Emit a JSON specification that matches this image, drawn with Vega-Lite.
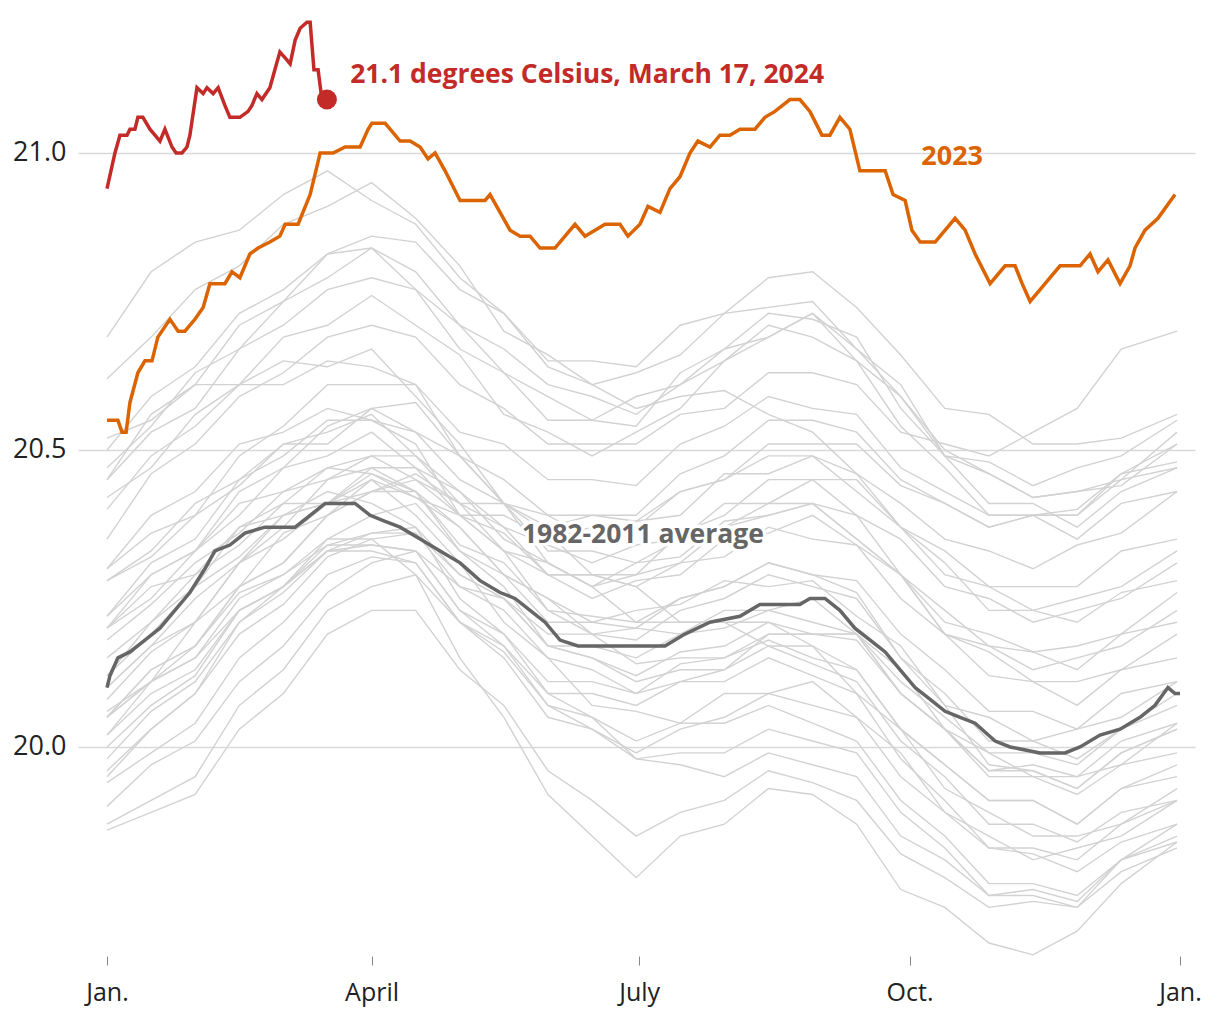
{
"$schema":"https://vega.github.io/schema/vega-lite/v6.json",
"width":1117,"height":946,
"autosize":"none",
"padding":{"left":78,"top":10,"right":25,"bottom":64},
"config":{"view":{"stroke":null},"font":"Open Sans"},
"datasets":{
"gray":[
{"yr":2016,"d":0,"t":20.69},{"yr":2016,"d":15,"t":20.80},{"yr":2016,"d":30,"t":20.85},{"yr":2016,"d":45,"t":20.87},{"yr":2016,"d":60,"t":20.93},{"yr":2016,"d":75,"t":20.97},{"yr":2016,"d":90,"t":20.92},{"yr":2016,"d":105,"t":20.88},{"yr":2016,"d":120,"t":20.79},{"yr":2016,"d":135,"t":20.73},{"yr":2016,"d":150,"t":20.64},{"yr":2016,"d":165,"t":20.61},{"yr":2016,"d":180,"t":20.57},{"yr":2016,"d":195,"t":20.59},{"yr":2016,"d":210,"t":20.60},{"yr":2016,"d":225,"t":20.56},{"yr":2016,"d":240,"t":20.53},{"yr":2016,"d":255,"t":20.46},{"yr":2016,"d":270,"t":20.41},{"yr":2016,"d":285,"t":20.35},{"yr":2016,"d":300,"t":20.33},{"yr":2016,"d":315,"t":20.30},{"yr":2016,"d":330,"t":20.34},{"yr":2016,"d":345,"t":20.36},{"yr":2016,"d":364,"t":20.43},
{"yr":2020,"d":0,"t":20.62},{"yr":2020,"d":15,"t":20.69},{"yr":2020,"d":30,"t":20.77},{"yr":2020,"d":45,"t":20.81},{"yr":2020,"d":60,"t":20.88},{"yr":2020,"d":75,"t":20.91},{"yr":2020,"d":90,"t":20.95},{"yr":2020,"d":105,"t":20.89},{"yr":2020,"d":120,"t":20.81},{"yr":2020,"d":135,"t":20.70},{"yr":2020,"d":150,"t":20.66},{"yr":2020,"d":165,"t":20.61},{"yr":2020,"d":180,"t":20.63},{"yr":2020,"d":195,"t":20.66},{"yr":2020,"d":210,"t":20.73},{"yr":2020,"d":225,"t":20.74},{"yr":2020,"d":240,"t":20.75},{"yr":2020,"d":255,"t":20.67},{"yr":2020,"d":270,"t":20.59},{"yr":2020,"d":285,"t":20.50},{"yr":2020,"d":300,"t":20.46},{"yr":2020,"d":315,"t":20.42},{"yr":2020,"d":330,"t":20.43},{"yr":2020,"d":345,"t":20.44},{"yr":2020,"d":364,"t":20.51},
{"yr":2019,"d":0,"t":20.50},{"yr":2019,"d":15,"t":20.59},{"yr":2019,"d":30,"t":20.64},{"yr":2019,"d":45,"t":20.73},{"yr":2019,"d":60,"t":20.77},{"yr":2019,"d":75,"t":20.83},{"yr":2019,"d":90,"t":20.86},{"yr":2019,"d":105,"t":20.85},{"yr":2019,"d":120,"t":20.77},{"yr":2019,"d":135,"t":20.73},{"yr":2019,"d":150,"t":20.65},{"yr":2019,"d":165,"t":20.65},{"yr":2019,"d":180,"t":20.64},{"yr":2019,"d":195,"t":20.71},{"yr":2019,"d":210,"t":20.73},{"yr":2019,"d":225,"t":20.79},{"yr":2019,"d":240,"t":20.80},{"yr":2019,"d":255,"t":20.74},{"yr":2019,"d":270,"t":20.66},{"yr":2019,"d":285,"t":20.57},{"yr":2019,"d":300,"t":20.56},{"yr":2019,"d":315,"t":20.51},{"yr":2019,"d":330,"t":20.51},{"yr":2019,"d":345,"t":20.52},{"yr":2019,"d":364,"t":20.56},
{"yr":2017,"d":0,"t":20.45},{"yr":2017,"d":15,"t":20.56},{"yr":2017,"d":30,"t":20.61},{"yr":2017,"d":45,"t":20.71},{"yr":2017,"d":60,"t":20.75},{"yr":2017,"d":75,"t":20.83},{"yr":2017,"d":90,"t":20.84},{"yr":2017,"d":105,"t":20.80},{"yr":2017,"d":120,"t":20.71},{"yr":2017,"d":135,"t":20.67},{"yr":2017,"d":150,"t":20.61},{"yr":2017,"d":165,"t":20.59},{"yr":2017,"d":180,"t":20.56},{"yr":2017,"d":195,"t":20.61},{"yr":2017,"d":210,"t":20.65},{"yr":2017,"d":225,"t":20.71},{"yr":2017,"d":240,"t":20.69},{"yr":2017,"d":255,"t":20.65},{"yr":2017,"d":270,"t":20.54},{"yr":2017,"d":285,"t":20.47},{"yr":2017,"d":300,"t":20.39},{"yr":2017,"d":315,"t":20.39},{"yr":2017,"d":330,"t":20.40},{"yr":2017,"d":345,"t":20.46},{"yr":2017,"d":364,"t":20.48},
{"yr":2018,"d":0,"t":20.42},{"yr":2018,"d":15,"t":20.47},{"yr":2018,"d":30,"t":20.56},{"yr":2018,"d":45,"t":20.61},{"yr":2018,"d":60,"t":20.69},{"yr":2018,"d":75,"t":20.71},{"yr":2018,"d":90,"t":20.76},{"yr":2018,"d":105,"t":20.71},{"yr":2018,"d":120,"t":20.66},{"yr":2018,"d":135,"t":20.56},{"yr":2018,"d":150,"t":20.53},{"yr":2018,"d":165,"t":20.49},{"yr":2018,"d":180,"t":20.53},{"yr":2018,"d":195,"t":20.57},{"yr":2018,"d":210,"t":20.65},{"yr":2018,"d":225,"t":20.69},{"yr":2018,"d":240,"t":20.73},{"yr":2018,"d":255,"t":20.65},{"yr":2018,"d":270,"t":20.59},{"yr":2018,"d":285,"t":20.49},{"yr":2018,"d":300,"t":20.48},{"yr":2018,"d":315,"t":20.44},{"yr":2018,"d":330,"t":20.47},{"yr":2018,"d":345,"t":20.49},{"yr":2018,"d":364,"t":20.55},
{"yr":2021,"d":0,"t":20.45},{"yr":2021,"d":15,"t":20.53},{"yr":2021,"d":30,"t":20.57},{"yr":2021,"d":45,"t":20.67},{"yr":2021,"d":60,"t":20.71},{"yr":2021,"d":75,"t":20.77},{"yr":2021,"d":90,"t":20.79},{"yr":2021,"d":105,"t":20.77},{"yr":2021,"d":120,"t":20.67},{"yr":2021,"d":135,"t":20.63},{"yr":2021,"d":150,"t":20.55},{"yr":2021,"d":165,"t":20.55},{"yr":2021,"d":180,"t":20.54},{"yr":2021,"d":195,"t":20.63},{"yr":2021,"d":210,"t":20.67},{"yr":2021,"d":225,"t":20.73},{"yr":2021,"d":240,"t":20.72},{"yr":2021,"d":255,"t":20.69},{"yr":2021,"d":270,"t":20.57},{"yr":2021,"d":285,"t":20.49},{"yr":2021,"d":300,"t":20.41},{"yr":2021,"d":315,"t":20.41},{"yr":2021,"d":330,"t":20.37},{"yr":2021,"d":345,"t":20.43},{"yr":2021,"d":364,"t":20.47},
{"yr":2022,"d":0,"t":20.47},{"yr":2022,"d":15,"t":20.54},{"yr":2022,"d":30,"t":20.63},{"yr":2022,"d":45,"t":20.67},{"yr":2022,"d":60,"t":20.75},{"yr":2022,"d":75,"t":20.79},{"yr":2022,"d":90,"t":20.84},{"yr":2022,"d":105,"t":20.77},{"yr":2022,"d":120,"t":20.71},{"yr":2022,"d":135,"t":20.63},{"yr":2022,"d":150,"t":20.59},{"yr":2022,"d":165,"t":20.55},{"yr":2022,"d":180,"t":20.59},{"yr":2022,"d":195,"t":20.61},{"yr":2022,"d":210,"t":20.67},{"yr":2022,"d":225,"t":20.69},{"yr":2022,"d":240,"t":20.73},{"yr":2022,"d":255,"t":20.67},{"yr":2022,"d":270,"t":20.61},{"yr":2022,"d":285,"t":20.49},{"yr":2022,"d":300,"t":20.46},{"yr":2022,"d":315,"t":20.42},{"yr":2022,"d":330,"t":20.43},{"yr":2022,"d":345,"t":20.45},{"yr":2022,"d":364,"t":20.53},
{"yr":2015,"d":0,"t":20.35},{"yr":2015,"d":15,"t":20.46},{"yr":2015,"d":30,"t":20.51},{"yr":2015,"d":45,"t":20.59},{"yr":2015,"d":60,"t":20.63},{"yr":2015,"d":75,"t":20.69},{"yr":2015,"d":90,"t":20.71},{"yr":2015,"d":105,"t":20.69},{"yr":2015,"d":120,"t":20.61},{"yr":2015,"d":135,"t":20.57},{"yr":2015,"d":150,"t":20.51},{"yr":2015,"d":165,"t":20.51},{"yr":2015,"d":180,"t":20.51},{"yr":2015,"d":195,"t":20.56},{"yr":2015,"d":210,"t":20.57},{"yr":2015,"d":225,"t":20.63},{"yr":2015,"d":240,"t":20.63},{"yr":2015,"d":255,"t":20.61},{"yr":2015,"d":270,"t":20.53},{"yr":2015,"d":285,"t":20.51},{"yr":2015,"d":300,"t":20.49},{"yr":2015,"d":315,"t":20.53},{"yr":2015,"d":330,"t":20.57},{"yr":2015,"d":345,"t":20.67},{"yr":2015,"d":364,"t":20.70},
{"yr":2014,"d":0,"t":20.30},{"yr":2014,"d":15,"t":20.36},{"yr":2014,"d":30,"t":20.39},{"yr":2014,"d":45,"t":20.49},{"yr":2014,"d":60,"t":20.54},{"yr":2014,"d":75,"t":20.61},{"yr":2014,"d":90,"t":20.61},{"yr":2014,"d":105,"t":20.61},{"yr":2014,"d":120,"t":20.53},{"yr":2014,"d":135,"t":20.51},{"yr":2014,"d":150,"t":20.45},{"yr":2014,"d":165,"t":20.45},{"yr":2014,"d":180,"t":20.44},{"yr":2014,"d":195,"t":20.51},{"yr":2014,"d":210,"t":20.54},{"yr":2014,"d":225,"t":20.59},{"yr":2014,"d":240,"t":20.57},{"yr":2014,"d":255,"t":20.56},{"yr":2014,"d":270,"t":20.47},{"yr":2014,"d":285,"t":20.43},{"yr":2014,"d":300,"t":20.39},{"yr":2014,"d":315,"t":20.39},{"yr":2014,"d":330,"t":20.35},{"yr":2014,"d":345,"t":20.41},{"yr":2014,"d":364,"t":20.43},
{"yr":2013,"d":0,"t":20.28},{"yr":2013,"d":15,"t":20.32},{"yr":2013,"d":30,"t":20.39},{"yr":2013,"d":45,"t":20.44},{"yr":2013,"d":60,"t":20.51},{"yr":2013,"d":75,"t":20.51},{"yr":2013,"d":90,"t":20.57},{"yr":2013,"d":105,"t":20.53},{"yr":2013,"d":120,"t":20.49},{"yr":2013,"d":135,"t":20.41},{"yr":2013,"d":150,"t":20.39},{"yr":2013,"d":165,"t":20.35},{"yr":2013,"d":180,"t":20.38},{"yr":2013,"d":195,"t":20.39},{"yr":2013,"d":210,"t":20.46},{"yr":2013,"d":225,"t":20.46},{"yr":2013,"d":240,"t":20.49},{"yr":2013,"d":255,"t":20.43},{"yr":2013,"d":270,"t":20.37},{"yr":2013,"d":285,"t":20.29},{"yr":2013,"d":300,"t":20.27},{"yr":2013,"d":315,"t":20.23},{"yr":2013,"d":330,"t":20.25},{"yr":2013,"d":345,"t":20.27},{"yr":2013,"d":364,"t":20.33},
{"yr":2012,"d":0,"t":20.20},{"yr":2012,"d":15,"t":20.29},{"yr":2012,"d":30,"t":20.33},{"yr":2012,"d":45,"t":20.43},{"yr":2012,"d":60,"t":20.47},{"yr":2012,"d":75,"t":20.54},{"yr":2012,"d":90,"t":20.57},{"yr":2012,"d":105,"t":20.58},{"yr":2012,"d":120,"t":20.49},{"yr":2012,"d":135,"t":20.45},{"yr":2012,"d":150,"t":20.39},{"yr":2012,"d":165,"t":20.39},{"yr":2012,"d":180,"t":20.38},{"yr":2012,"d":195,"t":20.43},{"yr":2012,"d":210,"t":20.45},{"yr":2012,"d":225,"t":20.49},{"yr":2012,"d":240,"t":20.49},{"yr":2012,"d":255,"t":20.46},{"yr":2012,"d":270,"t":20.37},{"yr":2012,"d":285,"t":20.31},{"yr":2012,"d":300,"t":20.23},{"yr":2012,"d":315,"t":20.23},{"yr":2012,"d":330,"t":20.21},{"yr":2012,"d":345,"t":20.26},{"yr":2012,"d":364,"t":20.28},
{"yr":2010,"d":0,"t":20.40},{"yr":2010,"d":15,"t":20.49},{"yr":2010,"d":30,"t":20.54},{"yr":2010,"d":45,"t":20.61},{"yr":2010,"d":60,"t":20.61},{"yr":2010,"d":75,"t":20.65},{"yr":2010,"d":90,"t":20.64},{"yr":2010,"d":105,"t":20.61},{"yr":2010,"d":120,"t":20.49},{"yr":2010,"d":135,"t":20.41},{"yr":2010,"d":150,"t":20.31},{"yr":2010,"d":165,"t":20.27},{"yr":2010,"d":180,"t":20.21},{"yr":2010,"d":195,"t":20.21},{"yr":2010,"d":210,"t":20.21},{"yr":2010,"d":225,"t":20.21},{"yr":2010,"d":240,"t":20.17},{"yr":2010,"d":255,"t":20.13},{"yr":2010,"d":270,"t":20.03},{"yr":2010,"d":285,"t":19.97},{"yr":2010,"d":300,"t":19.91},{"yr":2010,"d":315,"t":19.91},{"yr":2010,"d":330,"t":19.87},{"yr":2010,"d":345,"t":19.93},{"yr":2010,"d":364,"t":19.95},
{"yr":2009,"d":0,"t":20.05},{"yr":2009,"d":15,"t":20.13},{"yr":2009,"d":30,"t":20.17},{"yr":2009,"d":45,"t":20.27},{"yr":2009,"d":60,"t":20.31},{"yr":2009,"d":75,"t":20.39},{"yr":2009,"d":90,"t":20.43},{"yr":2009,"d":105,"t":20.46},{"yr":2009,"d":120,"t":20.41},{"yr":2009,"d":135,"t":20.41},{"yr":2009,"d":150,"t":20.37},{"yr":2009,"d":165,"t":20.39},{"yr":2009,"d":180,"t":20.39},{"yr":2009,"d":195,"t":20.46},{"yr":2009,"d":210,"t":20.49},{"yr":2009,"d":225,"t":20.55},{"yr":2009,"d":240,"t":20.55},{"yr":2009,"d":255,"t":20.53},{"yr":2009,"d":270,"t":20.45},{"yr":2009,"d":285,"t":20.41},{"yr":2009,"d":300,"t":20.37},{"yr":2009,"d":315,"t":20.39},{"yr":2009,"d":330,"t":20.39},{"yr":2009,"d":345,"t":20.46},{"yr":2009,"d":364,"t":20.51},
{"yr":1998,"d":0,"t":20.52},{"yr":1998,"d":15,"t":20.55},{"yr":1998,"d":30,"t":20.61},{"yr":1998,"d":45,"t":20.61},{"yr":1998,"d":60,"t":20.65},{"yr":1998,"d":75,"t":20.64},{"yr":1998,"d":90,"t":20.67},{"yr":1998,"d":105,"t":20.59},{"yr":1998,"d":120,"t":20.51},{"yr":1998,"d":135,"t":20.41},{"yr":1998,"d":150,"t":20.36},{"yr":1998,"d":165,"t":20.29},{"yr":1998,"d":180,"t":20.27},{"yr":1998,"d":195,"t":20.21},{"yr":1998,"d":210,"t":20.21},{"yr":1998,"d":225,"t":20.17},{"yr":1998,"d":240,"t":20.17},{"yr":1998,"d":255,"t":20.09},{"yr":1998,"d":270,"t":20.03},{"yr":1998,"d":285,"t":19.93},{"yr":1998,"d":300,"t":19.89},{"yr":1998,"d":315,"t":19.85},{"yr":1998,"d":330,"t":19.85},{"yr":1998,"d":345,"t":19.87},{"yr":1998,"d":364,"t":19.93},
{"yr":2005,"d":0,"t":20.22},{"yr":2005,"d":15,"t":20.31},{"yr":2005,"d":30,"t":20.35},{"yr":2005,"d":45,"t":20.45},{"yr":2005,"d":60,"t":20.49},{"yr":2005,"d":75,"t":20.55},{"yr":2005,"d":90,"t":20.55},{"yr":2005,"d":105,"t":20.53},{"yr":2005,"d":120,"t":20.45},{"yr":2005,"d":135,"t":20.41},{"yr":2005,"d":150,"t":20.33},{"yr":2005,"d":165,"t":20.33},{"yr":2005,"d":180,"t":20.31},{"yr":2005,"d":195,"t":20.35},{"yr":2005,"d":210,"t":20.37},{"yr":2005,"d":225,"t":20.41},{"yr":2005,"d":240,"t":20.41},{"yr":2005,"d":255,"t":20.39},{"yr":2005,"d":270,"t":20.29},{"yr":2005,"d":285,"t":20.23},{"yr":2005,"d":300,"t":20.17},{"yr":2005,"d":315,"t":20.16},{"yr":2005,"d":330,"t":20.13},{"yr":2005,"d":345,"t":20.19},{"yr":2005,"d":364,"t":20.21},
{"yr":2003,"d":0,"t":20.28},{"yr":2003,"d":15,"t":20.33},{"yr":2003,"d":30,"t":20.41},{"yr":2003,"d":45,"t":20.45},{"yr":2003,"d":60,"t":20.51},{"yr":2003,"d":75,"t":20.53},{"yr":2003,"d":90,"t":20.56},{"yr":2003,"d":105,"t":20.49},{"yr":2003,"d":120,"t":20.43},{"yr":2003,"d":135,"t":20.35},{"yr":2003,"d":150,"t":20.31},{"yr":2003,"d":165,"t":20.27},{"yr":2003,"d":180,"t":20.29},{"yr":2003,"d":195,"t":20.31},{"yr":2003,"d":210,"t":20.37},{"yr":2003,"d":225,"t":20.39},{"yr":2003,"d":240,"t":20.41},{"yr":2003,"d":255,"t":20.35},{"yr":2003,"d":270,"t":20.29},{"yr":2003,"d":285,"t":20.21},{"yr":2003,"d":300,"t":20.19},{"yr":2003,"d":315,"t":20.16},{"yr":2003,"d":330,"t":20.17},{"yr":2003,"d":345,"t":20.19},{"yr":2003,"d":364,"t":20.26},
{"yr":2006,"d":0,"t":20.10},{"yr":2006,"d":15,"t":20.17},{"yr":2006,"d":30,"t":20.21},{"yr":2006,"d":45,"t":20.31},{"yr":2006,"d":60,"t":20.37},{"yr":2006,"d":75,"t":20.45},{"yr":2006,"d":90,"t":20.47},{"yr":2006,"d":105,"t":20.47},{"yr":2006,"d":120,"t":20.39},{"yr":2006,"d":135,"t":20.36},{"yr":2006,"d":150,"t":20.29},{"yr":2006,"d":165,"t":20.29},{"yr":2006,"d":180,"t":20.29},{"yr":2006,"d":195,"t":20.36},{"yr":2006,"d":210,"t":20.39},{"yr":2006,"d":225,"t":20.45},{"yr":2006,"d":240,"t":20.45},{"yr":2006,"d":255,"t":20.45},{"yr":2006,"d":270,"t":20.37},{"yr":2006,"d":285,"t":20.33},{"yr":2006,"d":300,"t":20.27},{"yr":2006,"d":315,"t":20.27},{"yr":2006,"d":330,"t":20.27},{"yr":2006,"d":345,"t":20.33},{"yr":2006,"d":364,"t":20.35},
{"yr":2002,"d":0,"t":20.20},{"yr":2002,"d":15,"t":20.25},{"yr":2002,"d":30,"t":20.33},{"yr":2002,"d":45,"t":20.39},{"yr":2002,"d":60,"t":20.47},{"yr":2002,"d":75,"t":20.49},{"yr":2002,"d":90,"t":20.53},{"yr":2002,"d":105,"t":20.47},{"yr":2002,"d":120,"t":20.43},{"yr":2002,"d":135,"t":20.37},{"yr":2002,"d":150,"t":20.34},{"yr":2002,"d":165,"t":20.31},{"yr":2002,"d":180,"t":20.34},{"yr":2002,"d":195,"t":20.35},{"yr":2002,"d":210,"t":20.41},{"yr":2002,"d":225,"t":20.41},{"yr":2002,"d":240,"t":20.45},{"yr":2002,"d":255,"t":20.39},{"yr":2002,"d":270,"t":20.35},{"yr":2002,"d":285,"t":20.27},{"yr":2002,"d":300,"t":20.25},{"yr":2002,"d":315,"t":20.21},{"yr":2002,"d":330,"t":20.23},{"yr":2002,"d":345,"t":20.25},{"yr":2002,"d":364,"t":20.31},
{"yr":1983,"d":0,"t":20.30},{"yr":1983,"d":15,"t":20.39},{"yr":1983,"d":30,"t":20.43},{"yr":1983,"d":45,"t":20.51},{"yr":1983,"d":60,"t":20.53},{"yr":1983,"d":75,"t":20.57},{"yr":1983,"d":90,"t":20.55},{"yr":1983,"d":105,"t":20.51},{"yr":1983,"d":120,"t":20.39},{"yr":1983,"d":135,"t":20.33},{"yr":1983,"d":150,"t":20.23},{"yr":1983,"d":165,"t":20.19},{"yr":1983,"d":180,"t":20.14},{"yr":1983,"d":195,"t":20.15},{"yr":1983,"d":210,"t":20.15},{"yr":1983,"d":225,"t":20.18},{"yr":1983,"d":240,"t":20.15},{"yr":1983,"d":255,"t":20.13},{"yr":1983,"d":270,"t":20.03},{"yr":1983,"d":285,"t":19.97},{"yr":1983,"d":300,"t":19.91},{"yr":1983,"d":315,"t":19.91},{"yr":1983,"d":330,"t":19.87},{"yr":1983,"d":345,"t":19.93},{"yr":1983,"d":364,"t":19.97},
{"yr":1987,"d":0,"t":20.12},{"yr":1987,"d":15,"t":20.21},{"yr":1987,"d":30,"t":20.27},{"yr":1987,"d":45,"t":20.37},{"yr":1987,"d":60,"t":20.41},{"yr":1987,"d":75,"t":20.47},{"yr":1987,"d":90,"t":20.49},{"yr":1987,"d":105,"t":20.49},{"yr":1987,"d":120,"t":20.41},{"yr":1987,"d":135,"t":20.37},{"yr":1987,"d":150,"t":20.29},{"yr":1987,"d":165,"t":20.29},{"yr":1987,"d":180,"t":20.27},{"yr":1987,"d":195,"t":20.31},{"yr":1987,"d":210,"t":20.32},{"yr":1987,"d":225,"t":20.37},{"yr":1987,"d":240,"t":20.35},{"yr":1987,"d":255,"t":20.34},{"yr":1987,"d":270,"t":20.25},{"yr":1987,"d":285,"t":20.19},{"yr":1987,"d":300,"t":20.12},{"yr":1987,"d":315,"t":20.11},{"yr":1987,"d":330,"t":20.07},{"yr":1987,"d":345,"t":20.13},{"yr":1987,"d":364,"t":20.15},
{"yr":1988,"d":0,"t":20.15},{"yr":1988,"d":15,"t":20.21},{"yr":1988,"d":30,"t":20.29},{"yr":1988,"d":45,"t":20.34},{"yr":1988,"d":60,"t":20.41},{"yr":1988,"d":75,"t":20.41},{"yr":1988,"d":90,"t":20.45},{"yr":1988,"d":105,"t":20.39},{"yr":1988,"d":120,"t":20.31},{"yr":1988,"d":135,"t":20.21},{"yr":1988,"d":150,"t":20.15},{"yr":1988,"d":165,"t":20.07},{"yr":1988,"d":180,"t":20.06},{"yr":1988,"d":195,"t":20.04},{"yr":1988,"d":210,"t":20.09},{"yr":1988,"d":225,"t":20.09},{"yr":1988,"d":240,"t":20.11},{"yr":1988,"d":255,"t":20.05},{"yr":1988,"d":270,"t":19.99},{"yr":1988,"d":285,"t":19.89},{"yr":1988,"d":300,"t":19.85},{"yr":1988,"d":315,"t":19.81},{"yr":1988,"d":330,"t":19.83},{"yr":1988,"d":345,"t":19.85},{"yr":1988,"d":364,"t":19.91},
{"yr":1990,"d":0,"t":20.08},{"yr":1990,"d":15,"t":20.16},{"yr":1990,"d":30,"t":20.21},{"yr":1990,"d":45,"t":20.31},{"yr":1990,"d":60,"t":20.35},{"yr":1990,"d":75,"t":20.41},{"yr":1990,"d":90,"t":20.43},{"yr":1990,"d":105,"t":20.43},{"yr":1990,"d":120,"t":20.34},{"yr":1990,"d":135,"t":20.31},{"yr":1990,"d":150,"t":20.23},{"yr":1990,"d":165,"t":20.22},{"yr":1990,"d":180,"t":20.21},{"yr":1990,"d":195,"t":20.25},{"yr":1990,"d":210,"t":20.27},{"yr":1990,"d":225,"t":20.31},{"yr":1990,"d":240,"t":20.29},{"yr":1990,"d":255,"t":20.28},{"yr":1990,"d":270,"t":20.19},{"yr":1990,"d":285,"t":20.13},{"yr":1990,"d":300,"t":20.06},{"yr":1990,"d":315,"t":20.06},{"yr":1990,"d":330,"t":20.03},{"yr":1990,"d":345,"t":20.09},{"yr":1990,"d":364,"t":20.11},
{"yr":1991,"d":0,"t":20.10},{"yr":1991,"d":15,"t":20.17},{"yr":1991,"d":30,"t":20.25},{"yr":1991,"d":45,"t":20.31},{"yr":1991,"d":60,"t":20.39},{"yr":1991,"d":75,"t":20.41},{"yr":1991,"d":90,"t":20.46},{"yr":1991,"d":105,"t":20.42},{"yr":1991,"d":120,"t":20.37},{"yr":1991,"d":135,"t":20.29},{"yr":1991,"d":150,"t":20.25},{"yr":1991,"d":165,"t":20.21},{"yr":1991,"d":180,"t":20.23},{"yr":1991,"d":195,"t":20.24},{"yr":1991,"d":210,"t":20.28},{"yr":1991,"d":225,"t":20.27},{"yr":1991,"d":240,"t":20.28},{"yr":1991,"d":255,"t":20.22},{"yr":1991,"d":270,"t":20.17},{"yr":1991,"d":285,"t":20.07},{"yr":1991,"d":300,"t":20.05},{"yr":1991,"d":315,"t":20.01},{"yr":1991,"d":330,"t":20.03},{"yr":1991,"d":345,"t":20.05},{"yr":1991,"d":364,"t":20.11},
{"yr":1995,"d":0,"t":20.12},{"yr":1995,"d":15,"t":20.19},{"yr":1995,"d":30,"t":20.27},{"yr":1995,"d":45,"t":20.32},{"yr":1995,"d":60,"t":20.39},{"yr":1995,"d":75,"t":20.41},{"yr":1995,"d":90,"t":20.47},{"yr":1995,"d":105,"t":20.43},{"yr":1995,"d":120,"t":20.37},{"yr":1995,"d":135,"t":20.29},{"yr":1995,"d":150,"t":20.25},{"yr":1995,"d":165,"t":20.19},{"yr":1995,"d":180,"t":20.20},{"yr":1995,"d":195,"t":20.19},{"yr":1995,"d":210,"t":20.23},{"yr":1995,"d":225,"t":20.23},{"yr":1995,"d":240,"t":20.25},{"yr":1995,"d":255,"t":20.19},{"yr":1995,"d":270,"t":20.13},{"yr":1995,"d":285,"t":20.03},{"yr":1995,"d":300,"t":19.99},{"yr":1995,"d":315,"t":19.95},{"yr":1995,"d":330,"t":19.95},{"yr":1995,"d":345,"t":19.97},{"yr":1995,"d":364,"t":20.04},
{"yr":1997,"d":0,"t":20.02},{"yr":1997,"d":15,"t":20.11},{"yr":1997,"d":30,"t":20.17},{"yr":1997,"d":45,"t":20.27},{"yr":1997,"d":60,"t":20.31},{"yr":1997,"d":75,"t":20.39},{"yr":1997,"d":90,"t":20.43},{"yr":1997,"d":105,"t":20.45},{"yr":1997,"d":120,"t":20.39},{"yr":1997,"d":135,"t":20.39},{"yr":1997,"d":150,"t":20.35},{"yr":1997,"d":165,"t":20.37},{"yr":1997,"d":180,"t":20.37},{"yr":1997,"d":195,"t":20.43},{"yr":1997,"d":210,"t":20.45},{"yr":1997,"d":225,"t":20.51},{"yr":1997,"d":240,"t":20.51},{"yr":1997,"d":255,"t":20.51},{"yr":1997,"d":270,"t":20.44},{"yr":1997,"d":285,"t":20.41},{"yr":1997,"d":300,"t":20.37},{"yr":1997,"d":315,"t":20.39},{"yr":1997,"d":330,"t":20.39},{"yr":1997,"d":345,"t":20.45},{"yr":1997,"d":364,"t":20.47},
{"yr":2001,"d":0,"t":20.05},{"yr":2001,"d":15,"t":20.11},{"yr":2001,"d":30,"t":20.21},{"yr":2001,"d":45,"t":20.27},{"yr":2001,"d":60,"t":20.36},{"yr":2001,"d":75,"t":20.39},{"yr":2001,"d":90,"t":20.45},{"yr":2001,"d":105,"t":20.42},{"yr":2001,"d":120,"t":20.39},{"yr":2001,"d":135,"t":20.33},{"yr":2001,"d":150,"t":20.31},{"yr":2001,"d":165,"t":20.27},{"yr":2001,"d":180,"t":20.31},{"yr":2001,"d":195,"t":20.32},{"yr":2001,"d":210,"t":20.38},{"yr":2001,"d":225,"t":20.39},{"yr":2001,"d":240,"t":20.41},{"yr":2001,"d":255,"t":20.35},{"yr":2001,"d":270,"t":20.29},{"yr":2001,"d":285,"t":20.19},{"yr":2001,"d":300,"t":20.16},{"yr":2001,"d":315,"t":20.11},{"yr":2001,"d":330,"t":20.11},{"yr":2001,"d":345,"t":20.13},{"yr":2001,"d":364,"t":20.19},
{"yr":2004,"d":0,"t":20.18},{"yr":2004,"d":15,"t":20.24},{"yr":2004,"d":30,"t":20.31},{"yr":2004,"d":45,"t":20.36},{"yr":2004,"d":60,"t":20.43},{"yr":2004,"d":75,"t":20.45},{"yr":2004,"d":90,"t":20.49},{"yr":2004,"d":105,"t":20.45},{"yr":2004,"d":120,"t":20.41},{"yr":2004,"d":135,"t":20.33},{"yr":2004,"d":150,"t":20.29},{"yr":2004,"d":165,"t":20.25},{"yr":2004,"d":180,"t":20.28},{"yr":2004,"d":195,"t":20.29},{"yr":2004,"d":210,"t":20.35},{"yr":2004,"d":225,"t":20.36},{"yr":2004,"d":240,"t":20.39},{"yr":2004,"d":255,"t":20.34},{"yr":2004,"d":270,"t":20.29},{"yr":2004,"d":285,"t":20.19},{"yr":2004,"d":300,"t":20.17},{"yr":2004,"d":315,"t":20.13},{"yr":2004,"d":330,"t":20.15},{"yr":2004,"d":345,"t":20.17},{"yr":2004,"d":364,"t":20.23},
{"yr":2007,"d":0,"t":20.22},{"yr":2007,"d":15,"t":20.29},{"yr":2007,"d":30,"t":20.33},{"yr":2007,"d":45,"t":20.41},{"yr":2007,"d":60,"t":20.43},{"yr":2007,"d":75,"t":20.47},{"yr":2007,"d":90,"t":20.46},{"yr":2007,"d":105,"t":20.43},{"yr":2007,"d":120,"t":20.33},{"yr":2007,"d":135,"t":20.27},{"yr":2007,"d":150,"t":20.17},{"yr":2007,"d":165,"t":20.15},{"yr":2007,"d":180,"t":20.11},{"yr":2007,"d":195,"t":20.13},{"yr":2007,"d":210,"t":20.13},{"yr":2007,"d":225,"t":20.17},{"yr":2007,"d":240,"t":20.14},{"yr":2007,"d":255,"t":20.11},{"yr":2007,"d":270,"t":20.01},{"yr":2007,"d":285,"t":19.95},{"yr":2007,"d":300,"t":19.87},{"yr":2007,"d":315,"t":19.87},{"yr":2007,"d":330,"t":19.84},{"yr":2007,"d":345,"t":19.89},{"yr":2007,"d":364,"t":19.91},
{"yr":2011,"d":0,"t":19.95},{"yr":2011,"d":15,"t":20.03},{"yr":2011,"d":30,"t":20.09},{"yr":2011,"d":45,"t":20.21},{"yr":2011,"d":60,"t":20.27},{"yr":2011,"d":75,"t":20.35},{"yr":2011,"d":90,"t":20.39},{"yr":2011,"d":105,"t":20.41},{"yr":2011,"d":120,"t":20.33},{"yr":2011,"d":135,"t":20.29},{"yr":2011,"d":150,"t":20.21},{"yr":2011,"d":165,"t":20.21},{"yr":2011,"d":180,"t":20.20},{"yr":2011,"d":195,"t":20.25},{"yr":2011,"d":210,"t":20.27},{"yr":2011,"d":225,"t":20.31},{"yr":2011,"d":240,"t":20.29},{"yr":2011,"d":255,"t":20.26},{"yr":2011,"d":270,"t":20.15},{"yr":2011,"d":285,"t":20.07},{"yr":2011,"d":300,"t":19.97},{"yr":2011,"d":315,"t":19.96},{"yr":2011,"d":330,"t":19.93},{"yr":2011,"d":345,"t":19.99},{"yr":2011,"d":364,"t":20.03},
{"yr":2008,"d":0,"t":19.90},{"yr":2008,"d":15,"t":19.97},{"yr":2008,"d":30,"t":20.01},{"yr":2008,"d":45,"t":20.11},{"yr":2008,"d":60,"t":20.17},{"yr":2008,"d":75,"t":20.26},{"yr":2008,"d":90,"t":20.31},{"yr":2008,"d":105,"t":20.33},{"yr":2008,"d":120,"t":20.27},{"yr":2008,"d":135,"t":20.25},{"yr":2008,"d":150,"t":20.19},{"yr":2008,"d":165,"t":20.19},{"yr":2008,"d":180,"t":20.18},{"yr":2008,"d":195,"t":20.23},{"yr":2008,"d":210,"t":20.25},{"yr":2008,"d":225,"t":20.29},{"yr":2008,"d":240,"t":20.27},{"yr":2008,"d":255,"t":20.25},{"yr":2008,"d":270,"t":20.15},{"yr":2008,"d":285,"t":20.09},{"yr":2008,"d":300,"t":20.01},{"yr":2008,"d":315,"t":20.01},{"yr":2008,"d":330,"t":19.98},{"yr":2008,"d":345,"t":20.03},{"yr":2008,"d":364,"t":20.07},
{"yr":2000,"d":0,"t":19.98},{"yr":2000,"d":15,"t":20.06},{"yr":2000,"d":30,"t":20.11},{"yr":2000,"d":45,"t":20.21},{"yr":2000,"d":60,"t":20.26},{"yr":2000,"d":75,"t":20.33},{"yr":2000,"d":90,"t":20.36},{"yr":2000,"d":105,"t":20.37},{"yr":2000,"d":120,"t":20.29},{"yr":2000,"d":135,"t":20.25},{"yr":2000,"d":150,"t":20.17},{"yr":2000,"d":165,"t":20.15},{"yr":2000,"d":180,"t":20.12},{"yr":2000,"d":195,"t":20.16},{"yr":2000,"d":210,"t":20.17},{"yr":2000,"d":225,"t":20.21},{"yr":2000,"d":240,"t":20.19},{"yr":2000,"d":255,"t":20.18},{"yr":2000,"d":270,"t":20.09},{"yr":2000,"d":285,"t":20.03},{"yr":2000,"d":300,"t":19.95},{"yr":2000,"d":315,"t":19.95},{"yr":2000,"d":330,"t":19.92},{"yr":2000,"d":345,"t":19.97},{"yr":2000,"d":364,"t":19.99},
{"yr":1982,"d":0,"t":20.05},{"yr":1982,"d":15,"t":20.13},{"yr":1982,"d":30,"t":20.17},{"yr":1982,"d":45,"t":20.26},{"yr":1982,"d":60,"t":20.29},{"yr":1982,"d":75,"t":20.34},{"yr":1982,"d":90,"t":20.34},{"yr":1982,"d":105,"t":20.33},{"yr":1982,"d":120,"t":20.23},{"yr":1982,"d":135,"t":20.19},{"yr":1982,"d":150,"t":20.11},{"yr":1982,"d":165,"t":20.11},{"yr":1982,"d":180,"t":20.09},{"yr":1982,"d":195,"t":20.14},{"yr":1982,"d":210,"t":20.15},{"yr":1982,"d":225,"t":20.19},{"yr":1982,"d":240,"t":20.19},{"yr":1982,"d":255,"t":20.19},{"yr":1982,"d":270,"t":20.11},{"yr":1982,"d":285,"t":20.05},{"yr":1982,"d":300,"t":19.99},{"yr":1982,"d":315,"t":19.99},{"yr":1982,"d":330,"t":19.97},{"yr":1982,"d":345,"t":20.03},{"yr":1982,"d":364,"t":20.09},
{"yr":1984,"d":0,"t":20.05},{"yr":1984,"d":15,"t":20.11},{"yr":1984,"d":30,"t":20.15},{"yr":1984,"d":45,"t":20.23},{"yr":1984,"d":60,"t":20.27},{"yr":1984,"d":75,"t":20.33},{"yr":1984,"d":90,"t":20.33},{"yr":1984,"d":105,"t":20.31},{"yr":1984,"d":120,"t":20.21},{"yr":1984,"d":135,"t":20.16},{"yr":1984,"d":150,"t":20.07},{"yr":1984,"d":165,"t":20.05},{"yr":1984,"d":180,"t":20.01},{"yr":1984,"d":195,"t":20.04},{"yr":1984,"d":210,"t":20.04},{"yr":1984,"d":225,"t":20.07},{"yr":1984,"d":240,"t":20.04},{"yr":1984,"d":255,"t":20.01},{"yr":1984,"d":270,"t":19.91},{"yr":1984,"d":285,"t":19.85},{"yr":1984,"d":300,"t":19.77},{"yr":1984,"d":315,"t":19.77},{"yr":1984,"d":330,"t":19.75},{"yr":1984,"d":345,"t":19.81},{"yr":1984,"d":364,"t":19.84},
{"yr":1985,"d":0,"t":19.86},{"yr":1985,"d":15,"t":19.89},{"yr":1985,"d":30,"t":19.92},{"yr":1985,"d":45,"t":20.03},{"yr":1985,"d":60,"t":20.09},{"yr":1985,"d":75,"t":20.19},{"yr":1985,"d":90,"t":20.23},{"yr":1985,"d":105,"t":20.23},{"yr":1985,"d":120,"t":20.13},{"yr":1985,"d":135,"t":20.07},{"yr":1985,"d":150,"t":19.96},{"yr":1985,"d":165,"t":19.91},{"yr":1985,"d":180,"t":19.85},{"yr":1985,"d":195,"t":19.89},{"yr":1985,"d":210,"t":19.91},{"yr":1985,"d":225,"t":19.96},{"yr":1985,"d":240,"t":19.94},{"yr":1985,"d":255,"t":19.91},{"yr":1985,"d":270,"t":19.82},{"yr":1985,"d":285,"t":19.78},{"yr":1985,"d":300,"t":19.73},{"yr":1985,"d":315,"t":19.74},{"yr":1985,"d":330,"t":19.73},{"yr":1985,"d":345,"t":19.81},{"yr":1985,"d":364,"t":19.87},
{"yr":1986,"d":0,"t":19.87},{"yr":1986,"d":15,"t":19.91},{"yr":1986,"d":30,"t":19.95},{"yr":1986,"d":45,"t":20.07},{"yr":1986,"d":60,"t":20.13},{"yr":1986,"d":75,"t":20.23},{"yr":1986,"d":90,"t":20.27},{"yr":1986,"d":105,"t":20.29},{"yr":1986,"d":120,"t":20.21},{"yr":1986,"d":135,"t":20.17},{"yr":1986,"d":150,"t":20.09},{"yr":1986,"d":165,"t":20.09},{"yr":1986,"d":180,"t":20.07},{"yr":1986,"d":195,"t":20.11},{"yr":1986,"d":210,"t":20.13},{"yr":1986,"d":225,"t":20.19},{"yr":1986,"d":240,"t":20.19},{"yr":1986,"d":255,"t":20.19},{"yr":1986,"d":270,"t":20.09},{"yr":1986,"d":285,"t":20.03},{"yr":1986,"d":300,"t":19.96},{"yr":1986,"d":315,"t":19.97},{"yr":1986,"d":330,"t":19.95},{"yr":1986,"d":345,"t":20.01},{"yr":1986,"d":364,"t":20.04},
{"yr":1989,"d":0,"t":19.94},{"yr":1989,"d":15,"t":19.99},{"yr":1989,"d":30,"t":20.04},{"yr":1989,"d":45,"t":20.15},{"yr":1989,"d":60,"t":20.21},{"yr":1989,"d":75,"t":20.29},{"yr":1989,"d":90,"t":20.32},{"yr":1989,"d":105,"t":20.31},{"yr":1989,"d":120,"t":20.21},{"yr":1989,"d":135,"t":20.15},{"yr":1989,"d":150,"t":20.05},{"yr":1989,"d":165,"t":20.03},{"yr":1989,"d":180,"t":19.99},{"yr":1989,"d":195,"t":20.03},{"yr":1989,"d":210,"t":20.05},{"yr":1989,"d":225,"t":20.09},{"yr":1989,"d":240,"t":20.07},{"yr":1989,"d":255,"t":20.05},{"yr":1989,"d":270,"t":19.95},{"yr":1989,"d":285,"t":19.89},{"yr":1989,"d":300,"t":19.83},{"yr":1989,"d":315,"t":19.83},{"yr":1989,"d":330,"t":19.81},{"yr":1989,"d":345,"t":19.87},{"yr":1989,"d":364,"t":19.91},
{"yr":1992,"d":0,"t":20.20},{"yr":1992,"d":15,"t":20.27},{"yr":1992,"d":30,"t":20.29},{"yr":1992,"d":45,"t":20.37},{"yr":1992,"d":60,"t":20.39},{"yr":1992,"d":75,"t":20.43},{"yr":1992,"d":90,"t":20.41},{"yr":1992,"d":105,"t":20.37},{"yr":1992,"d":120,"t":20.25},{"yr":1992,"d":135,"t":20.19},{"yr":1992,"d":150,"t":20.09},{"yr":1992,"d":165,"t":20.05},{"yr":1992,"d":180,"t":19.98},{"yr":1992,"d":195,"t":19.97},{"yr":1992,"d":210,"t":19.95},{"yr":1992,"d":225,"t":19.99},{"yr":1992,"d":240,"t":19.97},{"yr":1992,"d":255,"t":19.95},{"yr":1992,"d":270,"t":19.85},{"yr":1992,"d":285,"t":19.81},{"yr":1992,"d":300,"t":19.75},{"yr":1992,"d":315,"t":19.76},{"yr":1992,"d":330,"t":19.74},{"yr":1992,"d":345,"t":19.81},{"yr":1992,"d":364,"t":19.85},
{"yr":1993,"d":0,"t":20.00},{"yr":1993,"d":15,"t":20.07},{"yr":1993,"d":30,"t":20.12},{"yr":1993,"d":45,"t":20.23},{"yr":1993,"d":60,"t":20.27},{"yr":1993,"d":75,"t":20.34},{"yr":1993,"d":90,"t":20.36},{"yr":1993,"d":105,"t":20.36},{"yr":1993,"d":120,"t":20.27},{"yr":1993,"d":135,"t":20.23},{"yr":1993,"d":150,"t":20.15},{"yr":1993,"d":165,"t":20.13},{"yr":1993,"d":180,"t":20.09},{"yr":1993,"d":195,"t":20.11},{"yr":1993,"d":210,"t":20.11},{"yr":1993,"d":225,"t":20.15},{"yr":1993,"d":240,"t":20.12},{"yr":1993,"d":255,"t":20.09},{"yr":1993,"d":270,"t":19.98},{"yr":1993,"d":285,"t":19.91},{"yr":1993,"d":300,"t":19.83},{"yr":1993,"d":315,"t":19.82},{"yr":1993,"d":330,"t":19.79},{"yr":1993,"d":345,"t":19.84},{"yr":1993,"d":364,"t":19.87},
{"yr":1994,"d":0,"t":19.96},{"yr":1994,"d":15,"t":20.03},{"yr":1994,"d":30,"t":20.09},{"yr":1994,"d":45,"t":20.19},{"yr":1994,"d":60,"t":20.24},{"yr":1994,"d":75,"t":20.32},{"yr":1994,"d":90,"t":20.35},{"yr":1994,"d":105,"t":20.36},{"yr":1994,"d":120,"t":20.29},{"yr":1994,"d":135,"t":20.25},{"yr":1994,"d":150,"t":20.17},{"yr":1994,"d":165,"t":20.17},{"yr":1994,"d":180,"t":20.15},{"yr":1994,"d":195,"t":20.19},{"yr":1994,"d":210,"t":20.20},{"yr":1994,"d":225,"t":20.23},{"yr":1994,"d":240,"t":20.21},{"yr":1994,"d":255,"t":20.19},{"yr":1994,"d":270,"t":20.09},{"yr":1994,"d":285,"t":20.03},{"yr":1994,"d":300,"t":19.96},{"yr":1994,"d":315,"t":19.96},{"yr":1994,"d":330,"t":19.93},{"yr":1994,"d":345,"t":19.99},{"yr":1994,"d":364,"t":20.03},
{"yr":1996,"d":0,"t":20.02},{"yr":1996,"d":15,"t":20.09},{"yr":1996,"d":30,"t":20.13},{"yr":1996,"d":45,"t":20.23},{"yr":1996,"d":60,"t":20.27},{"yr":1996,"d":75,"t":20.33},{"yr":1996,"d":90,"t":20.34},{"yr":1996,"d":105,"t":20.33},{"yr":1996,"d":120,"t":20.23},{"yr":1996,"d":135,"t":20.17},{"yr":1996,"d":150,"t":20.07},{"yr":1996,"d":165,"t":20.03},{"yr":1996,"d":180,"t":19.98},{"yr":1996,"d":195,"t":19.99},{"yr":1996,"d":210,"t":19.99},{"yr":1996,"d":225,"t":20.03},{"yr":1996,"d":240,"t":20.01},{"yr":1996,"d":255,"t":19.99},{"yr":1996,"d":270,"t":19.89},{"yr":1996,"d":285,"t":19.83},{"yr":1996,"d":300,"t":19.75},{"yr":1996,"d":315,"t":19.75},{"yr":1996,"d":330,"t":19.73},{"yr":1996,"d":345,"t":19.79},{"yr":1996,"d":364,"t":19.83},
{"yr":1999,"d":0,"t":20.06},{"yr":1999,"d":15,"t":20.11},{"yr":1999,"d":30,"t":20.15},{"yr":1999,"d":45,"t":20.25},{"yr":1999,"d":60,"t":20.29},{"yr":1999,"d":75,"t":20.35},{"yr":1999,"d":90,"t":20.35},{"yr":1999,"d":105,"t":20.29},{"yr":1999,"d":120,"t":20.15},{"yr":1999,"d":135,"t":20.05},{"yr":1999,"d":150,"t":19.92},{"yr":1999,"d":165,"t":19.85},{"yr":1999,"d":180,"t":19.78},{"yr":1999,"d":195,"t":19.85},{"yr":1999,"d":210,"t":19.87},{"yr":1999,"d":225,"t":19.93},{"yr":1999,"d":240,"t":19.92},{"yr":1999,"d":255,"t":19.87},{"yr":1999,"d":270,"t":19.76},{"yr":1999,"d":285,"t":19.73},{"yr":1999,"d":300,"t":19.67},{"yr":1999,"d":315,"t":19.65},{"yr":1999,"d":330,"t":19.69},{"yr":1999,"d":345,"t":19.77},{"yr":1999,"d":364,"t":19.84}
],
"avg":[
{"d":0,"t":20.10},{"d":1,"t":20.12},{"d":3.7,"t":20.15},{"d":7.8,"t":20.16},{"d":12.9,"t":20.18},{"d":18,"t":20.20},{"d":23.1,"t":20.23},{"d":28.2,"t":20.26},{"d":33.3,"t":20.30},{"d":36.7,"t":20.33},{"d":41.8,"t":20.34},{"d":46.9,"t":20.36},{"d":53.7,"t":20.37},{"d":64,"t":20.37},{"d":69.1,"t":20.39},{"d":74.2,"t":20.41},{"d":84.4,"t":20.41},{"d":89.5,"t":20.39},{"d":94.6,"t":20.38},{"d":99.7,"t":20.37},{"d":106.5,"t":20.35},{"d":113.3,"t":20.33},{"d":120.1,"t":20.31},{"d":126.9,"t":20.28},{"d":133.7,"t":20.26},{"d":138.8,"t":20.25},{"d":143.9,"t":20.23},{"d":149,"t":20.21},{"d":154.1,"t":20.18},{"d":160.2,"t":20.17},{"d":189.8,"t":20.17},{"d":196.6,"t":20.19},{"d":205.1,"t":20.21},{"d":215.3,"t":20.22},{"d":222.1,"t":20.24},{"d":235.7,"t":20.24},{"d":239.1,"t":20.25},{"d":244.2,"t":20.25},{"d":249.3,"t":20.23},{"d":254.4,"t":20.20},{"d":259.6,"t":20.18},{"d":264.7,"t":20.16},{"d":269.8,"t":20.13},{"d":274.9,"t":20.10},{"d":280,"t":20.08},{"d":285.1,"t":20.06},{"d":290.2,"t":20.05},{"d":295.3,"t":20.04},{"d":302.1,"t":20.01},{"d":307.2,"t":20.00},{"d":317.4,"t":19.99},{"d":325.9,"t":19.99},{"d":331,"t":20.00},{"d":337.8,"t":20.02},{"d":344.6,"t":20.03},{"d":351.4,"t":20.05},{"d":356.5,"t":20.07},{"d":360.9,"t":20.10},{"d":363.3,"t":20.09},{"d":365,"t":20.09}
],
"y2023":[
{"d":0,"t":20.55},{"d":3.7,"t":20.55},{"d":5.1,"t":20.53},{"d":6.5,"t":20.53},{"d":7.8,"t":20.58},{"d":10.5,"t":20.63},{"d":12.9,"t":20.65},{"d":15.3,"t":20.65},{"d":17.3,"t":20.69},{"d":21.4,"t":20.72},{"d":24.2,"t":20.70},{"d":26.5,"t":20.70},{"d":29.9,"t":20.72},{"d":32.7,"t":20.74},{"d":35,"t":20.78},{"d":40.1,"t":20.78},{"d":42.5,"t":20.80},{"d":45.2,"t":20.79},{"d":48.6,"t":20.83},{"d":51.4,"t":20.84},{"d":55.4,"t":20.85},{"d":58.8,"t":20.86},{"d":60.6,"t":20.88},{"d":65,"t":20.88},{"d":69.1,"t":20.93},{"d":72.5,"t":21.00},{"d":76.9,"t":21.00},{"d":81,"t":21.01},{"d":86.1,"t":21.01},{"d":88.8,"t":21.04},{"d":90.1,"t":21.05},{"d":94.6,"t":21.05},{"d":96.3,"t":21.04},{"d":99.7,"t":21.02},{"d":103.1,"t":21.02},{"d":106.5,"t":21.01},{"d":109.2,"t":20.99},{"d":111.6,"t":21.00},{"d":115,"t":20.97},{"d":120.1,"t":20.92},{"d":128.6,"t":20.92},{"d":130.3,"t":20.93},{"d":133.7,"t":20.90},{"d":137.1,"t":20.87},{"d":140.5,"t":20.86},{"d":143.9,"t":20.86},{"d":147.3,"t":20.84},{"d":152.4,"t":20.84},{"d":155.8,"t":20.86},{"d":159.2,"t":20.88},{"d":162.6,"t":20.86},{"d":166,"t":20.87},{"d":169.4,"t":20.88},{"d":174.5,"t":20.88},{"d":177.2,"t":20.86},{"d":181.3,"t":20.88},{"d":184,"t":20.91},{"d":188.1,"t":20.90},{"d":191.5,"t":20.94},{"d":194.9,"t":20.96},{"d":198.3,"t":21.00},{"d":201,"t":21.02},{"d":205.1,"t":21.01},{"d":208.5,"t":21.03},{"d":211.9,"t":21.03},{"d":215.3,"t":21.04},{"d":220.4,"t":21.04},{"d":223.8,"t":21.06},{"d":227.2,"t":21.07},{"d":232.3,"t":21.09},{"d":235.7,"t":21.09},{"d":239.1,"t":21.07},{"d":243.2,"t":21.03},{"d":245.9,"t":21.03},{"d":249.3,"t":21.06},{"d":252.7,"t":21.04},{"d":256.1,"t":20.97},{"d":264.7,"t":20.97},{"d":267.4,"t":20.93},{"d":271.5,"t":20.92},{"d":273.8,"t":20.87},{"d":276.6,"t":20.85},{"d":281.7,"t":20.85},{"d":285.1,"t":20.87},{"d":288.5,"t":20.89},{"d":291.9,"t":20.87},{"d":295.3,"t":20.83},{"d":300.4,"t":20.78},{"d":305.5,"t":20.81},{"d":308.9,"t":20.81},{"d":311.3,"t":20.78},{"d":314,"t":20.75},{"d":317.4,"t":20.77},{"d":320.8,"t":20.79},{"d":324.2,"t":20.81},{"d":331,"t":20.81},{"d":334.4,"t":20.83},{"d":337.1,"t":20.80},{"d":340.5,"t":20.82},{"d":344.6,"t":20.78},{"d":348,"t":20.81},{"d":349.7,"t":20.84},{"d":353.1,"t":20.87},{"d":357.5,"t":20.89},{"d":363.3,"t":20.93}
],
"y2024":[
{"d":0,"t":20.94},{"d":2.7,"t":21.00},{"d":4.4,"t":21.03},{"d":6.8,"t":21.03},{"d":7.8,"t":21.04},{"d":9.5,"t":21.04},{"d":10.5,"t":21.06},{"d":12.2,"t":21.06},{"d":14.6,"t":21.04},{"d":16.3,"t":21.03},{"d":18,"t":21.02},{"d":19.7,"t":21.04},{"d":22.1,"t":21.01},{"d":23.5,"t":21.00},{"d":25.5,"t":21.00},{"d":27.2,"t":21.01},{"d":28.2,"t":21.03},{"d":30.6,"t":21.11},{"d":32.7,"t":21.10},{"d":34,"t":21.11},{"d":36.1,"t":21.10},{"d":37.8,"t":21.11},{"d":40.1,"t":21.08},{"d":41.8,"t":21.06},{"d":45.2,"t":21.06},{"d":48,"t":21.07},{"d":49.3,"t":21.08},{"d":51,"t":21.10},{"d":52.7,"t":21.09},{"d":55.4,"t":21.11},{"d":57.1,"t":21.14},{"d":58.8,"t":21.17},{"d":60.6,"t":21.16},{"d":62.3,"t":21.15},{"d":64,"t":21.19},{"d":65.7,"t":21.21},{"d":68,"t":21.22},{"d":69.1,"t":21.22},{"d":70.4,"t":21.14},{"d":71.8,"t":21.14},{"d":73.1,"t":21.09},{"d":74.8,"t":21.09}
]
},
"encoding":{
"x":{"field":"d","type":"quantitative","scale":{"domain":[-9.87,370.1],"nice":false,"zero":false},
"axis":{"title":null,"values":[0,90,181,273,365],"labelExpr":"datum.value==90?'April':datum.value==181?'July':datum.value==273?'Oct.':'Jan.'","domain":false,"grid":false,"ticks":true,"tickSize":9,"tickColor":"#888888","tickWidth":1,"labelFontSize":25,"labelColor":"#222222","labelPadding":15,"labelFont":"Open Sans"}},
"y":{"field":"t","type":"quantitative","scale":{"domain":[19.6481,21.2407],"nice":false,"zero":false},
"axis":{"title":null,"values":[20,20.5,21],"format":".1f","domain":false,"ticks":false,"grid":true,"gridColor":"#d9d9d9","gridWidth":1.3,"labelFontSize":27,"labelColor":"#222222","labelPadding":12,"labelFont":"Open Sans"}}
},
"layer":[
{"data":{"name":"gray"},"mark":{"type":"line","stroke":"#d2d2d2","strokeWidth":1.4},"encoding":{"detail":{"field":"yr","type":"nominal"}}},
{"data":{"name":"avg"},"mark":{"type":"line","stroke":"#666666","strokeWidth":3.5},"encoding":{}},
{"data":{"name":"y2023"},"mark":{"type":"line","stroke":"#db6300","strokeWidth":3.5},"encoding":{}},
{"data":{"name":"y2024"},"mark":{"type":"line","stroke":"#c22b27","strokeWidth":3.5},"encoding":{}},
{"data":{"values":[{"d":74.8,"t":21.09}]},"mark":{"type":"point","filled":true,"shape":"circle","size":400,"color":"#c22b27","opacity":1}},
{"data":{"values":[{"d":82.7,"t":21.131,"label":"21.1 degrees Celsius, March 17, 2024"}]},"mark":{"type":"text","align":"left","baseline":"middle","fontSize":26.5,"fontWeight":"bold","color":"#c22b27","font":"Open Sans"},"encoding":{"text":{"field":"label"}}},
{"data":{"values":[{"d":287.5,"t":20.993,"label":"2023"}]},"mark":{"type":"text","align":"center","baseline":"middle","fontSize":27,"fontWeight":"bold","color":"#db6300","font":"Open Sans"},"encoding":{"text":{"field":"label"}}},
{"data":{"values":[{"d":182.3,"t":20.357,"label":"1982-2011 average"}]},"mark":{"type":"text","align":"center","baseline":"middle","fontSize":26.5,"fontWeight":"bold","color":"white","stroke":"white","strokeWidth":7,"strokeJoin":"round","font":"Open Sans"},"encoding":{"text":{"field":"label"}}},
{"data":{"values":[{"d":182.3,"t":20.357,"label":"1982-2011 average"}]},"mark":{"type":"text","align":"center","baseline":"middle","fontSize":26.5,"fontWeight":"bold","color":"#666666","font":"Open Sans"},"encoding":{"text":{"field":"label"}}}
]
}
